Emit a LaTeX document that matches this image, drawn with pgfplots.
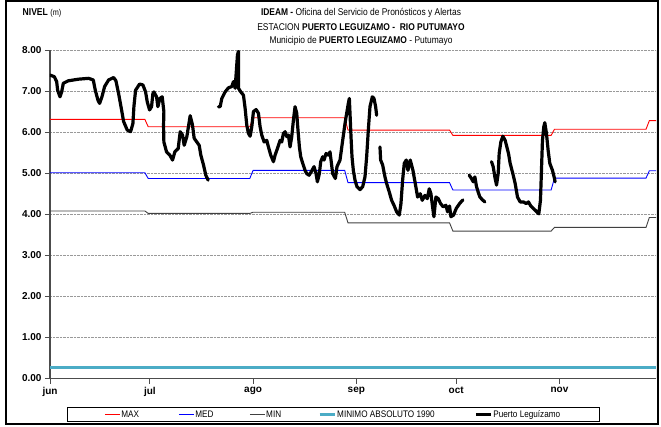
\documentclass[border=0pt]{standalone}
\usepackage{fontspec}
\setmainfont{Liberation Sans}
\newfontfamily\nf{Liberation Sans}[FakeStretch=0.86]
\usepackage{pgfplots}
\pgfplotsset{compat=1.18}
\definecolor{cy}{HTML}{4BACC6}
\begin{document}
\begin{tikzpicture}
\useasboundingbox (0pt,0pt) rectangle (661pt,426pt);
\begin{axis}[
  at={(50pt,47.5pt)}, anchor=south west,
  width=606pt, height=328.5pt, scale only axis,
  xmin=0, xmax=182, ymin=0, ymax=8,
  xtick={0,30,61,92,122,153}, xticklabels={jun,jul,ago,sep,oct,nov},
  ytick={0,1,...,8},
  yticklabel style={/pgf/number format/.cd,fixed,fixed zerofill,precision=2,assume math mode=true},
  ticklabel style={font=\bfseries\fontsize{10}{12}\selectfont},
  tick align=outside, major tick length=5pt,
  tick style={gray!60!black, line width=0.8pt},
  axis x line*=bottom, axis y line*=left,
  axis line style={gray!60!black, line width=1.2pt},
  ymajorgrids, grid style={densely dotted, gray!80, line width=0.6pt},
  legend columns=5,
  legend style={at={(0.4678,-0.110)}, anchor=center, draw=black, line width=0.8pt,
    font=\nf\fontsize{9.5}{11}\selectfont, inner xsep=37pt, inner ysep=2pt,
    nodes={inner xsep=1pt, inner ysep=1pt},
    /tikz/every even column/.append style={column sep=0pt}},
  legend image code/.code={\draw[#1, line cap=butt] (0pt,0pt) -- (15pt,0pt);},
]
\addplot[red, line width=0.9pt] coordinates {(0,6.31)(28.5,6.31)(29.5,6.13)(60,6.13)(61,6.35)(88.5,6.35)(89.5,6.05)(120,6.05)(121,5.92)(150.5,5.92)(151.5,6.07)(179,6.07)(180,6.28)(182,6.28)};
\addlegendentry{\makebox[56pt][l]{MAX}}
\addplot[blue, line width=0.9pt] coordinates {(0,5.01)(28.5,5.01)(29.5,4.87)(60,4.87)(61,5.07)(88.5,5.07)(89.5,4.77)(120,4.77)(121,4.59)(150.5,4.59)(151.5,4.88)(179,4.88)(180,5.06)(182,5.06)};
\addlegendentry{\makebox[53pt][l]{MED}}
\addplot[black!75, line width=0.9pt] coordinates {(0,4.08)(28.5,4.08)(29.5,4.02)(60,4.02)(61,4.05)(88.5,4.05)(89.5,3.79)(120,3.79)(121,3.59)(150.5,3.59)(151.5,3.68)(179,3.68)(180,3.92)(182,3.92)};
\addlegendentry{\makebox[51pt][l]{MIN}}
\addplot[cy, line width=3pt] coordinates {(0,0.26)(182,0.26)};
\addlegendentry{\makebox[136pt][l]{MINIMO ABSOLUTO 1990}}
\addplot[black, line width=3.2pt, line join=round, line cap=round, unbounded coords=jump] coordinates {
(0,7.39)(1.3,7.35)(2,7.23)(2.3,7.02)(3,6.86)(3.5,6.98)(4,7.19)(5.5,7.25)(8.6,7.29)(11.6,7.31)(13,7.27)(13.6,7.02)(14.4,6.78)(14.9,6.70)(15.6,6.86)(16.4,7.11)(17.6,7.27)(19.1,7.33)(19.8,7.25)(20.6,6.94)(21.5,6.54)(22.1,6.26)(23.2,6.05)(24.2,6.01)(24.9,6.21)(25.2,6.62)(25.7,7.02)(26.9,7.17)(27.9,7.15)(28.7,6.98)(29.2,6.74)(29.9,6.54)(30.5,6.62)(30.9,6.94)(31.2,6.98)(32,6.86)(32.4,6.62)(33,6.82)(33.7,6.86)(34.2,6.50)(34.1,6.17)(34.2,5.76)(35,5.52)(36,5.44)(36.8,5.32)(37.5,5.52)(38.5,5.60)(39.1,6.01)(39.8,5.93)(40.3,5.68)(41.1,5.89)(42.1,6.40)(42.8,6.17)(43.3,5.85)(44.8,5.68)(45.3,5.44)(46.1,5.20)(46.8,4.95)(47.5,4.83)
(49,nan)
(50.6,6.62)(51.1,6.62)(51.6,6.82)(52.6,6.98)(53.6,7.08)(54.6,7.11)(55.1,7.23)(55.6,7.07)(56.3,7.88)(56.6,7.97)(56.6,7.07)(57.3,6.98)(58.1,6.90)(58.6,6.58)(59.1,6.17)(59.6,5.97)(60.1,5.90)(60.6,6.13)(61.1,6.50)(61.9,6.55)(62.6,6.46)(63.1,6.13)(63.6,5.93)(64.3,5.76)(65.1,5.80)(65.6,5.64)(66.3,5.44)(67.1,5.28)(67.6,5.44)(68.3,5.60)(69.1,5.80)(69.6,5.76)(70.1,5.97)(70.6,6.01)(71.1,5.89)(71.6,5.93)(72.1,5.64)(72.6,5.89)(73.1,6.29)(73.6,6.62)(74.1,6.46)(74.4,6.13)(74.9,5.64)(75.3,5.40)(75.9,5.24)(76.6,5.07)(77.1,4.99)(77.8,4.95)(78.5,5.04)(79.3,5.16)(79.9,4.99)(80.3,4.79)(80.9,4.99)(81.3,5.28)(81.9,5.40)(82.3,5.32)(82.9,5.48)(83.6,5.44)(84.1,5.52)(84.9,4.99)(85.7,4.87)(86.2,5.16)(87.1,5.32)(87.9,5.80)(88.6,6.21)(89.1,6.46)(89.6,6.70)(89.9,6.82)(90.1,6.46)(90.4,5.89)(90.7,5.40)(91.1,5.07)(91.6,4.83)(92.2,4.67)(93.1,4.60)(93.9,4.67)(94.6,4.91)(95.1,5.40)(95.6,6.05)(96.1,6.62)(96.8,6.86)(97.3,6.82)(97.8,6.62)(98.1,6.41)
(98.6,nan)
(99.1,5.64)(99.3,5.32)(99.9,5.20)(100.6,4.91)(101.1,4.75)(101.9,4.54)(102.6,4.34)(103.3,4.22)(104.1,4.06)(104.9,3.98)(105.4,4.26)(105.9,4.83)(106.4,5.24)(107,5.32)(107.5,5.07)(108.2,5.32)(109,5.07)(109.7,4.75)(110.4,4.42)(111.2,4.50)(111.8,4.34)(112.6,4.46)(113.3,4.38)(113.9,4.62)(114.4,4.50)(114.9,4.18)(115.3,3.94)(115.9,4.42)(116.6,4.38)(117.3,4.26)(118.1,4.18)(118.9,4.22)(119.4,4.06)(120,4.20)(120.4,3.94)(121.2,3.98)(122,4.14)(123,4.26)(124,4.35)
(125,nan)
(125.9,4.95)(126.6,4.87)(127.1,4.79)(127.6,4.91)(128.1,4.67)(128.6,4.54)(129.1,4.42)(129.9,4.35)(130.6,4.30)
(131.5,nan)
(132.6,5.28)(133.1,5.16)(133.6,4.91)(134.1,4.71)(134.6,4.99)(134.9,5.48)(135.4,5.76)(136,5.90)(136.7,5.80)(137.2,5.64)(137.7,5.48)(138.2,5.24)(139,4.99)(139.7,4.75)(140.4,4.42)(141.2,4.30)(142.2,4.30)(143,4.26)(143.7,4.30)(144.4,4.20)(145.2,4.14)(146.2,4.06)(146.8,4.01)(147.3,4.34)(147.6,5.07)(147.9,5.80)(148.3,6.13)(148.6,6.23)(149.1,5.97)(149.6,5.56)(150.1,5.24)(150.9,5.07)(151.4,4.91)(151.7,4.79)
};
\addlegendentry{\makebox[68pt][l]{Puerto Leguízamo}}
\draw[gray!60!black, line width=0.8pt] (rel axis cs:1,0) -- (rel axis cs:1,1);
\end{axis}
\draw[line width=2pt] (6pt,2pt) rectangle (658pt,425pt);
\node[font=\nf\fontsize{9.8}{11}\selectfont] at (361pt,413pt) {\textbf{IDEAM -} Oficina del Servicio de Pronósticos y Alertas};
\node[font=\nf\fontsize{9.8}{11}\selectfont] at (361pt,399pt) {ESTACION \textbf{PUERTO LEGUIZAMO -\ \ RIO PUTUMAYO}};
\node[font=\nf\fontsize{9.8}{11}\selectfont] at (361pt,385pt) {Municipio de \textbf{PUERTO LEGUIZAMO} - Putumayo};
\node[font=\nf\fontsize{10}{12}\selectfont] at (42pt,413pt) {\textbf{NIVEL} {\fontsize{8.5}{10}\selectfont(m)}};
\end{tikzpicture}
\end{document}
